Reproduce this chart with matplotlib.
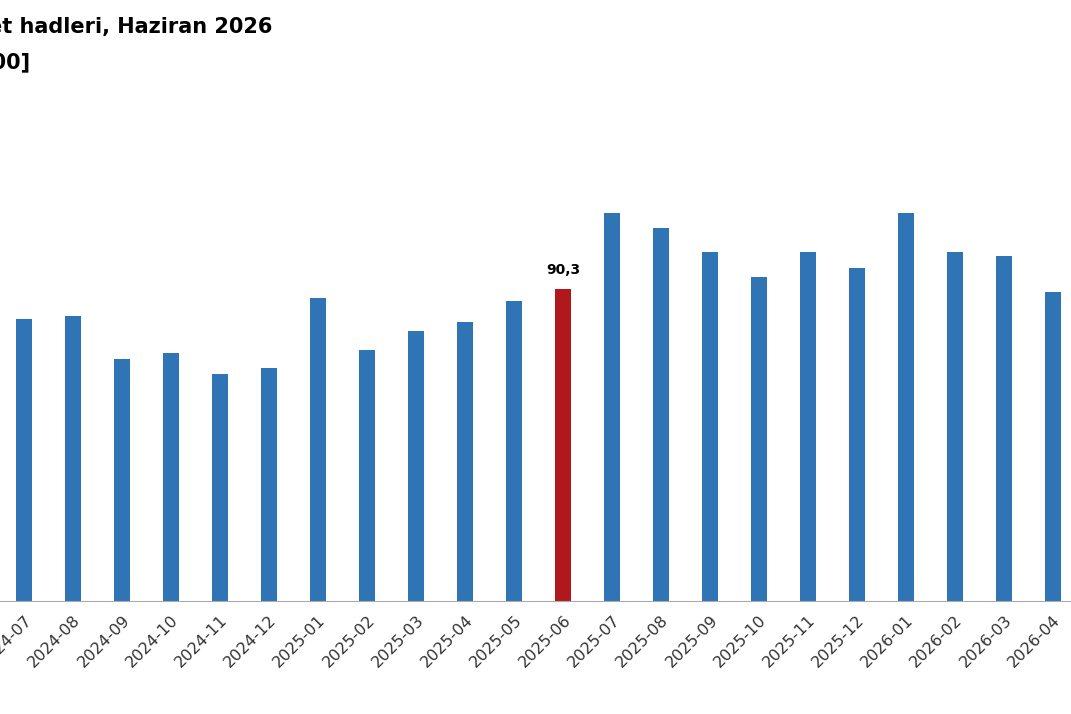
import matplotlib
matplotlib.use("Agg")
import matplotlib.pyplot as plt

months = ["2024-07", "2024-08", "2024-09", "2024-10", "2024-11", "2024-12",
          "2025-01", "2025-02", "2025-03", "2025-04", "2025-05", "2025-06",
          "2025-07", "2025-08", "2025-09", "2025-10", "2025-11", "2025-12",
          "2026-01", "2026-02", "2026-03", "2026-04", "2026-05"]
values = [89.3, 89.4, 88.0, 88.2, 87.5, 87.7,
          90.0, 88.3, 88.9, 89.2, 89.9, 90.3,
          92.8, 92.3, 91.5, 90.7, 91.5, 91.0,
          92.8, 91.5, 91.4, 90.2, 90.5]
highlight = "2025-06"

blue = "#2f75b5"
red = "#b0181c"

fig = plt.figure(figsize=(10.71, 7.14), dpi=100)
ax = fig.add_axes([0, 0.158, 1, 0.702])

x = list(range(len(months)))
colors = [red if m == highlight else blue for m in months]
ax.bar(x, values, width=0.33, color=colors, zorder=2)

i = months.index(highlight)
ax.text(i, values[i] + 0.4, f"{values[i]:.1f}".replace(".", ","),
        ha="center", va="bottom", fontsize=10, fontweight="bold")

ax.autoscale(False)
ax.set_ylim(80, 96.53)
ax.set_xlim(-0.49, 21.37)
ax.set_xticks(x)
ax.set_xticklabels(months, rotation=45, ha="right", rotation_mode="anchor",
                   fontsize=11.5, color="#333333")
ax.tick_params(axis="x", length=0, pad=8)
ax.set_yticks([])
for s in ["top", "right", "left"]:
    ax.spines[s].set_visible(False)
ax.spines["bottom"].set_color("#aaaaaa")
ax.set_xlim(-0.49, 21.37)

fig.text(272 / 1071, 1 - 27 / 714, "Dış ticaret hadleri, Haziran 2026",
         ha="right", va="center", fontsize=15, fontweight="bold")
fig.text(30 / 1071, 1 - 62 / 714, "[2021=100]",
         ha="right", va="center", fontsize=15, fontweight="bold")

fig.savefig("out.png", dpi=100)
